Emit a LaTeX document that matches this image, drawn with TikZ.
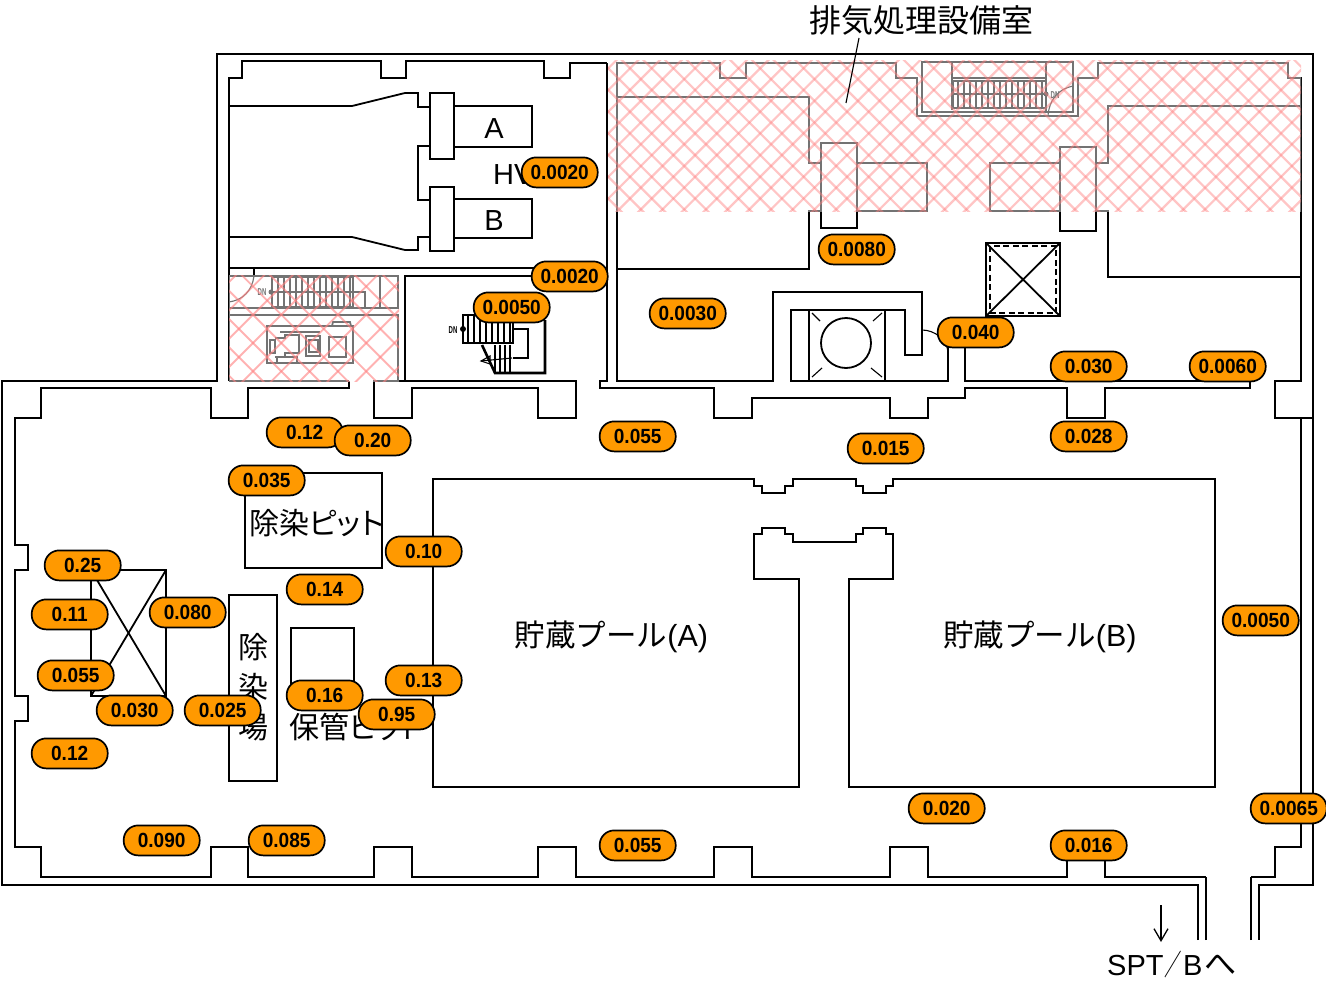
\documentclass[tikz,border=0pt]{standalone}
\usepackage{fontspec}
\setmainfont{Liberation Sans}
\newfontfamily\cjk[RawFeature=+palt]{Noto Sans CJK JP}
\newfontfamily\cjkw{Noto Sans CJK JP}
\newfontfamily\pillfont[FakeStretch=0.93]{Liberation Sans}
\usetikzlibrary{arrows.meta}
\tikzset{
 wall/.style={line width=1.8pt,line join=miter},
 thinw/.style={line width=1.1pt},
 dose/.style={draw=black,line width=1.7pt,fill=doseorange,rounded corners=14.5pt,minimum width=76pt,minimum height=30pt,inner sep=0pt,xshift=0.7pt,yshift=-0.4pt,font=\pillfont\bfseries\fontsize{20.5}{21}\selectfont},
 jp/.style={inner sep=0pt,font=\cjk\fontsize{30}{31}\selectfont},
 pool/.style={inner sep=0pt,font=\cjkw\fontsize{30.5}{31}\selectfont},
 dn/.style={inner sep=0pt,xscale=0.6,font=\bfseries\fontsize{10}{10}\selectfont},
 hatchA/.style={hatchpink,opacity=0.45,line width=2.2pt},
 hatchB/.style={hatchpink,opacity=0.6,line width=1.9pt}
}
\definecolor{doseorange}{HTML}{FF9900}
\definecolor{hatchpink}{HTML}{FF8080}
\begin{document}
\begin{tikzpicture}[x=1pt,y=-1pt]
 \useasboundingbox (0,0) rectangle (1326,985);
 \fill[white] (0,0) rectangle (1326,985);
 % outer walls
 \draw[wall] (1198,940)--(1198,885)--(2,885)--(2,381)--(217,381)--(217,54)--(1313,54)--(1313,885)--(1259,885)--(1259,940);
 \draw[wall] (1206,940)--(1206,877);
 \draw[wall] (1251,940)--(1251,877);
 % hall inner wall
 \draw[wall] (349,381)--(349,388)--(248,388)--(248,418)--(211,418)--(211,388)--(41,388)--(41,418)--(15,418)--(15,545)--(28,545)--(28,570)--(15,570)--(15,696)--(28,696)--(28,721)--(15,721)--(15,847)--(41,847)--(41,877)--(211,877)--(211,847)--(248,847)--(248,877)--(374,877)--(374,847)--(412,847)--(412,877)--(538,877)--(538,847)--(576,847)--(576,877)--(714,877)--(714,847)--(752,847)--(752,877)--(890,877)--(890,847)--(928,847)--(928,877)--(1067,877)--(1067,847)--(1105,847)--(1105,877)--(1206,877);
 \draw[wall] (1251,877)--(1275,877)--(1275,847)--(1301,847)--(1301,418)--(1275,418)--(1275,381)--(1301,381)--(1301,78)--(1288,78)--(1288,63)--(1098,63)--(1098,78)--(1078,78)--(1078,116)--(917,116)--(917,78)--(896,78)--(896,63)--(746,63)--(746,78)--(720,78)--(720,63)--(617,63)--(617,381)--(773,381)--(773,292)--(922,292)--(922,355)--(905,355)--(905,310)--(791,310)--(791,381)--(948,381)--(948,347);
 \draw[wall] (1301,418)--(1313,418);
 \draw[wall] (374,381)--(576,381)--(576,418)--(538,418)--(538,388)--(412,388)--(412,418)--(374,418)--cycle;
 \draw[wall] (607,63)--(607,381)--(600,381)--(600,388)--(714,388)--(714,418)--(752,418)--(752,398)--(890,398)--(890,418)--(928,418)--(928,398)--(965,398)--(965,388)--(1067,388)--(1067,418)--(1105,418)--(1105,388)--(1250,388)--(1250,381)--(965,381)--(965,345);
 % left upper room
 \draw[wall] (229,381)--(229,78)--(242,78)--(242,61)--(381,61)--(381,78)--(406,78)--(406,61)--(544,61)--(544,78)--(570,78)--(570,63)--(607,63);
 \draw[wall] (229,381)--(349,381);
 \draw[wall] (229,106)--(352,106)--(405,93)--(418,93)--(418,107)--(430,107);
 \draw[wall] (430,146)--(418,146)--(418,200)--(430,200);
 \draw[wall] (229,237)--(352,237)--(405,250)--(418,250)--(418,237)--(430,237);
 \draw[wall] (430,93) rectangle (454,159);
 \draw[wall] (430,187) rectangle (454,251);
 \draw[wall] (454,106) rectangle (532,147);
 \draw[wall] (454,199) rectangle (532,238);
 \draw[wall] (229,268)--(607,268);
 \draw[wall] (229,276)--(398,276)--(398,308)--(229,308);
 \draw[wall] (229,315)--(398,315)--(398,381);
 \draw[wall] (254,268)--(254,276);
 \draw[wall] (540,276)--(405,276)--(405,381);
 \draw[thinw] (254,276) .. controls (252,291) and (243,300) .. (229,302);
 % stairs (left)
 \draw[wall] (272,277) rectangle (353,307);
 \draw[wall] (272,292)--(365,292)--(365,307);
 \draw[wall] (380,276)--(380,308);
 \foreach \sx in {278,284,...,350} \draw[thinw] (\sx,277)--(\sx,307);
 \fill (271,292) circle (2.5);
 \node[dn] (dnleft) at (262,292) {DN};
 % equipment
 \draw[wall] (267,326) rectangle (353,363);
 \draw[wall] (332,326)--(333,322)--(350,322)--(351,326);
 \draw[wall] (280,332)--(320,332);
 \draw[wall] (306,336) rectangle (320,356);
 \draw[thinw] (309,340) rectangle (318,352);
 \draw[wall] (329,337) rectangle (346,357);
 \draw[thinw] (270,340) rectangle (275,353);
 \draw[wall] (275,338)--(285,338)--(285,335)--(299,335)--(299,353)--(285,353)--(285,357)--(275,357);
 \draw[wall] (277,357) rectangle (297,363);
 % stairs (centre)
 \draw[line width=2.6pt] (545,320)--(545,373)--(495,373)--(482,345);
 \draw[thinw] (513,329)--(528,329)--(528,358)--(513,358);
 \draw[thinw] (463,315) rectangle (513,343);
 \draw[line width=2.4pt] (463,343)--(513,343);
 \draw[line width=2.4pt] (463,315)--(480,315);
 \foreach \sx in {468,474,...,512} \draw[thinw] (\sx,315)--(\sx,343);
 \foreach \sx in {495,500,...,513} \draw[thinw] (\sx,345)--(\sx,373);
 \draw[thinw] (481,361)--(512,358);
 \draw[thinw] (481,361)--(490,356)--(490,364)--cycle;
 \fill (463,329) circle (3);
 \node[dn] (dncentre) at (453,330) {DN};
 % mechanical room
 \draw[wall] (809,310)--(809,381);
 \draw[wall] (885,310)--(885,381);
 \draw[wall] (846,343) circle (25);
 \draw[thinw] (812,313)--(820,321);
 \draw[thinw] (882,313)--(873,321);
 \draw[thinw] (812,377)--(822,368);
 \draw[thinw] (882,377)--(871,368);
 \draw[thinw] (922,330) .. controls (935,330) and (947,340) .. (948,352);
 % square shaft
 \draw[wall] (986,243) rectangle (1060,316);
 \draw[thinw,dash pattern=on 6pt off 3.5pt] (990,246) rectangle (1056,313);
 \draw[wall] (986,243)--(1060,316);
 \draw[wall] (1060,243)--(986,316);
 % right rooms
 \draw[wall] (617,97)--(809,97)--(809,163)--(821,163);
 \draw[wall] (821,211)--(809,211)--(809,269)--(617,269);
 \draw[wall] (821,143) rectangle (857,228);
 \draw[wall] (857,163) rectangle (927,211);
 \draw[wall] (1060,147) rectangle (1096,231);
 \draw[wall] (990,163) rectangle (1060,211);
 \draw[wall] (1096,163)--(1108,163)--(1108,106)--(1301,106);
 \draw[wall] (1096,211)--(1108,211)--(1108,277)--(1301,277);
 % stairs (top)
 \draw[wall] (922,62) rectangle (1073,112);
 \draw[wall] (952,62)--(952,110);
 \draw[wall] (1046,62)--(1046,112);
 \draw[wall] (952,78)--(1046,78);
 \draw[wall] (953,81) rectangle (1046,108);
 \draw[wall] (953,94)--(1046,94);
 \foreach \sx in {958,964,...,1044} \draw[thinw] (\sx,81)--(\sx,108);
 \draw[thinw] (1048,116) .. controls (1049,100) and (1058,89) .. (1073,86);
 \fill (1046,94) circle (2.5);
 \node[dn] (dntop) at (1055,95) {DN};
 % hall contents
 \draw[wall] (91,570) rectangle (166,696);
 \draw[wall] (97,580)--(166,696);
 \draw[wall] (166,570)--(91,696);
 \draw[wall] (245,473) rectangle (382,568);
 \draw[wall] (229,595) rectangle (277,781);
 \draw[wall] (291,628) rectangle (354,700);
 % pools
 \draw[wall] (433,479)--(754,479)--(754,486)--(762,486)--(762,493)--(785,493)--(785,486)--(793,486)--(793,479)--(856,479)--(856,486)--(863,486)--(863,493)--(886,493)--(886,486)--(893,486)--(893,479)--(1215,479)--(1215,787)--(849,787)--(849,579)--(893,579)--(893,534)--(886,534)--(886,528)--(863,528)--(863,534)--(856,534)--(856,542)--(793,542)--(793,534)--(785,534)--(785,528)--(762,528)--(762,534)--(754,534)--(754,579)--(799,579)--(799,787)--(433,787)--cycle;
 % hatched areas
 \begin{scope}
  \clip (608,60) rectangle (1301,211);
  \fill[white,opacity=0.45] (0,0) rectangle (1326,985);
  \foreach \k in {-6,...,34} \draw[hatchA] ({518.3+21.7*\k},0)--++(400,400);
  \foreach \k in {-4,...,36} \draw[hatchA] ({741.7+21.7*\k},0)--++(-400,400);
 \end{scope}
 \begin{scope}
  \clip (229,275) rectangle (399,381);
  \fill[white,opacity=0.45] (0,0) rectangle (1326,985);
  \foreach \k in {-3,...,8} \draw[hatchB] ({-90+28.3*\k},0)--++(500,500);
  \foreach \k in {-4,...,7} \draw[hatchB] ({596+28.3*\k},0)--++(-500,500);
 \end{scope}
 % leader and arrow
 \coordinate (LS) at (859,38);
 \coordinate (LE) at (846,103);
 \draw[thinw] (LS)--(LE);
 \coordinate (AS) at (1161,905);
 \coordinate (AE) at (1161,942);
 \draw[line width=1.3pt,-{Straight Barb[length=12pt,width=14pt]}] (AS)--(AE);
 % labels
 \node[jp,font=\cjk\fontsize{32}{33}\selectfont] (exhroom) at (921.5,20) {排気処理設備室};
 \node[inner sep=0pt,font=\fontsize{29}{30}\selectfont] (fanA) at (494,129) {A};
 \node[inner sep=0pt,font=\fontsize{29}{30}\selectfont] (fanB) at (494,221) {B};
 \node[inner sep=0pt,anchor=west,font=\fontsize{29}{30}\selectfont] (hv) at (493,175) {HV};
 \node[jp] (pit) at (316.5,523) {除染ピット};
 \node[jp] (job1) at (253,647) {除};
 \node[jp] (job2) at (253,687) {染};
 \node[jp] (job3) at (253,727) {場};
 \node[jp,anchor=west] (storepit) at (289,727) {保管ピット};
 \node[pool] (poolA) at (611.5,637) {貯蔵プール{\normalfont(A)}};
 \node[pool] (poolB) at (1040,637) {貯蔵プール{\normalfont(B)}};
 \node[inner sep=0pt,anchor=west,font=\fontsize{29}{30}\selectfont] (spt) at (1107,964) {SPT\kern1pt\scalebox{0.6}[1]{\cjkw ／}\kern1pt B{\cjk\fontsize{32}{33}\selectfont\kern2ptへ}};
 % dose rates
 \node[dose] (a1) at (559,172) {0.0020};
 \node[dose] (a2) at (569,276) {0.0020};
 \node[dose] (a3) at (511,307) {0.0050};
 \node[dose] (a4) at (856,249) {0.0080};
 \node[dose] (a5) at (687,313) {0.0030};
 \node[dose] (a6) at (975,332) {0.040};
 \node[dose] (a7) at (1088,366) {0.030};
 \node[dose] (a8) at (1227,366) {0.0060};
 \node[dose] (b1) at (304,432) {0.12};
 \node[dose] (b2) at (372,440) {0.20};
 \node[dose] (b3) at (637,436) {0.055};
 \node[dose] (b4) at (885,448) {0.015};
 \node[dose] (b5) at (1088,436) {0.028};
 \node[dose] (b6) at (266,480) {0.035};
 \node[dose] (b7) at (423,551) {0.10};
 \node[dose] (c1) at (82,565) {0.25};
 \node[dose] (c2) at (69,614) {0.11};
 \node[dose] (c3) at (187,612) {0.080};
 \node[dose] (c4) at (324,589) {0.14};
 \node[dose] (c5) at (75,675) {0.055};
 \node[dose] (c6) at (324,695) {0.16};
 \node[dose] (c7) at (423,680) {0.13};
 \node[dose] (c8) at (396,714) {0.95};
 \node[dose] (c9) at (134,710) {0.030};
 \node[dose] (c10) at (222,710) {0.025};
 \node[dose] (c11) at (69,753) {0.12};
 \node[dose] (d1) at (161,840) {0.090};
 \node[dose] (d2) at (286,840) {0.085};
 \node[dose] (d3) at (637,845) {0.055};
 \node[dose] (d4) at (946,808) {0.020};
 \node[dose] (d5) at (1088,845) {0.016};
 \node[dose] (d6) at (1288,808) {0.0065};
 \node[dose] (d7) at (1260,620) {0.0050};
\end{tikzpicture}
\end{document}
